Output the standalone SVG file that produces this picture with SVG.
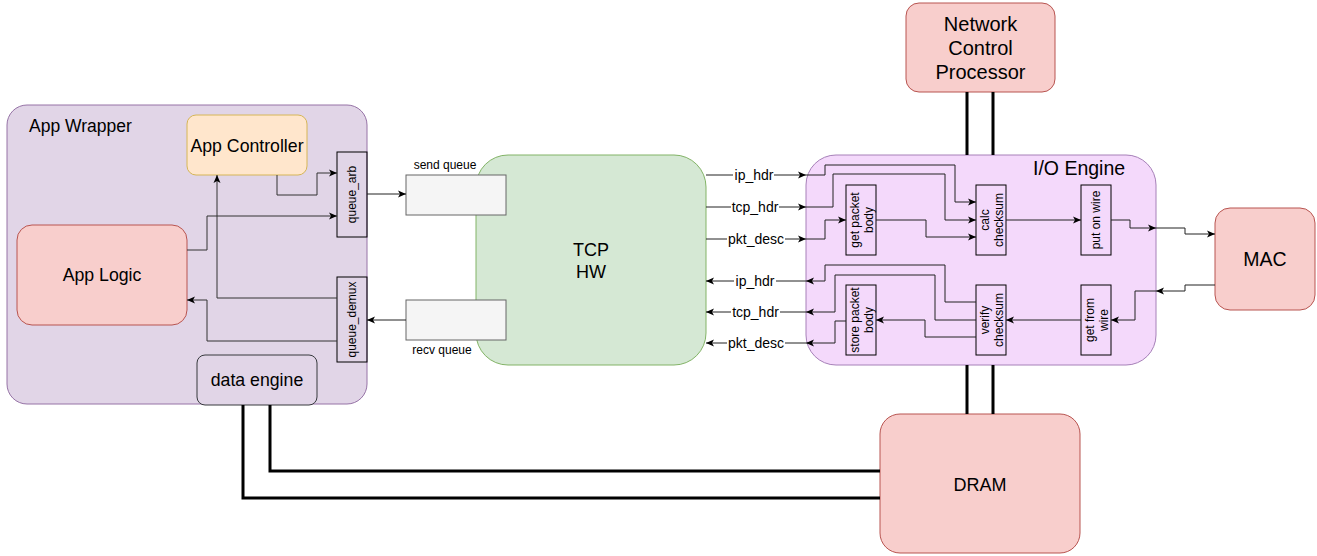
<svg xmlns="http://www.w3.org/2000/svg" width="1317" height="556" viewBox="0 0 1317 556">
<defs>
<marker id="arr" markerUnits="userSpaceOnUse" markerWidth="8" markerHeight="8" viewBox="0 0 8 8" refX="8" refY="4" orient="auto">
<path d="M0,0.5 L8,4 L0,7.5 L2,4 Z" fill="#000"/>
</marker>
<style>
text{font-family:"Liberation Sans",Arial,Helvetica,sans-serif;fill:#000}
.lbl{font-size:17.7px;text-anchor:middle}
.sm{font-size:12px;text-anchor:middle}
.el{font-size:14px;text-anchor:middle}
.red{fill:#f8cecc;stroke:#b85450;stroke-width:1}
.blk{fill:none;stroke:#000;stroke-width:1}
.c{fill:none;stroke:#222;stroke-width:1;marker-end:url(#arr)}
.cg{fill:none;stroke:#333;stroke-width:1;marker-end:url(#arr)}
.thick{fill:none;stroke:#000;stroke-width:3}
.bg{fill:#fff;stroke:none}
</style>
</defs>

<g id="app_wrapper">
<rect x="7" y="105" width="360" height="299" rx="20" fill="#e1d5e7" stroke="#9673a6"/>
<text x="29" y="132" style="font-size:17.5px">App Wrapper</text>
</g>
<g id="app_controller">
<rect x="187" y="115" width="120" height="60" rx="9" fill="#ffe6cc" stroke="#d6b656"/>
<text class="lbl" x="247" y="152">App Controller</text>
</g>
<g id="app_logic">
<rect class="red" x="17" y="225" width="170" height="100" rx="15"/>
<text class="lbl" x="102" y="281">App Logic</text>
</g>
<g id="queue_arb">
<rect class="blk" x="337" y="152" width="30" height="85"/>
<text class="sm" transform="translate(352,194.5) rotate(-90)" y="4">queue_arb</text>
</g>
<g id="queue_demux">
<rect class="blk" x="337" y="277" width="30" height="85"/>
<text class="sm" transform="translate(352,319.5) rotate(-90)" y="4">queue_demux</text>
</g>
<g id="data_engine">
<rect x="197" y="355" width="120" height="50" rx="8" fill="#e1d5e7" stroke="#36393d"/>
<text class="lbl" x="257" y="386">data engine</text>
</g>

<g id="tcp_hw">
<rect x="476" y="155" width="230" height="210" rx="32" fill="#d5e8d4" stroke="#82b366"/>
<text class="lbl" x="591" y="256" style="font-size:18px">TCP</text>
<text class="lbl" x="591" y="278" style="font-size:18px">HW</text>
</g>
<g id="send_queue">
<rect x="406" y="175" width="100" height="40" fill="#f5f5f5" stroke="#666"/>
<text class="sm" x="445" y="169">send queue</text>
</g>
<g id="recv_queue">
<rect x="406" y="300" width="100" height="40" fill="#f5f5f5" stroke="#666"/>
<text class="sm" x="442" y="354">recv queue</text>
</g>

<g id="io_engine">
<rect x="806" y="155" width="350" height="210" rx="30" fill="#f4d9fb" stroke="#a680b8"/>
<text x="1033" y="175" style="font-size:19.5px">I/O Engine</text>
</g>
<g id="get_packet_body">
<rect class="blk" x="846" y="185" width="30" height="70"/>
<text class="sm" transform="translate(861,220) rotate(-90)"><tspan x="0" y="-2">get packet</tspan><tspan x="0" y="12">body</tspan></text>
</g>
<g id="calc_checksum">
<rect class="blk" x="976" y="185" width="30" height="70"/>
<text class="sm" transform="translate(991,220) rotate(-90)"><tspan x="0" y="-2">calc</tspan><tspan x="0" y="12">checksum</tspan></text>
</g>
<g id="put_on_wire">
<rect class="blk" x="1081" y="185" width="30" height="70"/>
<text class="sm" transform="translate(1096,220) rotate(-90)" y="4">put on wire</text>
</g>
<g id="store_packet_body">
<rect class="blk" x="846" y="285" width="30" height="70"/>
<text class="sm" transform="translate(861,320) rotate(-90)"><tspan x="0" y="-2">store packet</tspan><tspan x="0" y="12">body</tspan></text>
</g>
<g id="verify_checksum">
<rect class="blk" x="976" y="285" width="30" height="70"/>
<text class="sm" transform="translate(991,320) rotate(-90)"><tspan x="0" y="-2">verify</tspan><tspan x="0" y="12">checksum</tspan></text>
</g>
<g id="get_from_wire">
<rect class="blk" x="1081" y="285" width="30" height="70"/>
<text class="sm" transform="translate(1096,320) rotate(-90)"><tspan x="0" y="-2">get from</tspan><tspan x="0" y="12">wire</tspan></text>
</g>

<g id="ncp">
<rect class="red" x="906" y="3" width="149" height="89" rx="13"/>
<text class="lbl" x="980.5" y="31" style="font-size:20px">Network</text>
<text class="lbl" x="980.5" y="55" style="font-size:20px">Control</text>
<text class="lbl" x="980.5" y="79" style="font-size:20px">Processor</text>
</g>
<g id="mac">
<rect class="red" x="1215" y="208" width="100" height="102" rx="15"/>
<text class="lbl" x="1265" y="266" style="font-size:19.5px">MAC</text>
</g>
<g id="dram">
<rect class="red" x="880" y="414" width="200" height="139" rx="20"/>
<text class="lbl" x="980" y="491" style="font-size:18px">DRAM</text>
</g>

<g id="connectors">
<path class="cg" d="M277,175 V195 H317 V173 H337"/>
<path class="cg" d="M187,250 H207 V216 H337"/>
<path class="cg" d="M337,298 H217 V175"/>
<path class="cg" d="M337,341 H207 V300 H187"/>
<path class="c" d="M367,194 H406"/>
<path class="c" d="M406,320 H367"/>

<path class="c" d="M706,175 H806"/>
<path class="c" d="M706,207 H806"/>
<path class="c" d="M706,239 H806"/>
<path class="c" d="M806,281 H706"/>
<path class="c" d="M806,312 H706"/>
<path class="c" d="M806,343 H706"/>
<rect class="bg" x="733" y="168" width="41" height="14"/>
<text class="el" x="754" y="180">ip_hdr</text>
<rect class="bg" x="731" y="200" width="48" height="14"/>
<text class="el" x="755" y="212">tcp_hdr</text>
<rect class="bg" x="727" y="232" width="58" height="14"/>
<text class="el" x="756" y="244">pkt_desc</text>
<rect class="bg" x="734" y="274" width="42" height="14"/>
<text class="el" x="755" y="286">ip_hdr</text>
<rect class="bg" x="731" y="305" width="49" height="14"/>
<text class="el" x="755.5" y="317">tcp_hdr</text>
<rect class="bg" x="727" y="336" width="58" height="14"/>
<text class="el" x="756" y="348">pkt_desc</text>

<path class="c" d="M806,175 H825 V165 H955 V202 H976"/>
<path class="c" d="M806,207 H833 V174 H945 V220 H976"/>
<path class="c" d="M806,239 H825 V220 H846"/>
<path class="c" d="M876,220 H926 V237 H976"/>
<path class="c" d="M1006,220 H1081"/>
<path class="c" d="M1111,220 H1130 V228 H1156"/>
<path class="c" d="M1156,228 H1185 V234 H1215"/>
<path class="c" d="M1215,285 H1185 V291 H1156"/>
<path class="c" d="M1156,291 H1135 V320 H1111"/>
<path class="c" d="M1081,320 H1006"/>
<path class="c" d="M976,302 H945 V265 H825 V281 H806"/>
<path class="c" d="M976,320 H935 V275 H835 V312 H806"/>
<path class="c" d="M976,337 H925 V320 H876"/>
<path class="c" d="M846,321 H835 V343 H806"/>

<path class="thick" d="M967,92 V155 M993,92 V155"/>
<path class="thick" d="M967,365 V414 M993,365 V414"/>
<path class="thick" d="M270,405 V471 H880"/>
<path class="thick" d="M243,405 V498 H880"/>
</g>
</svg>
